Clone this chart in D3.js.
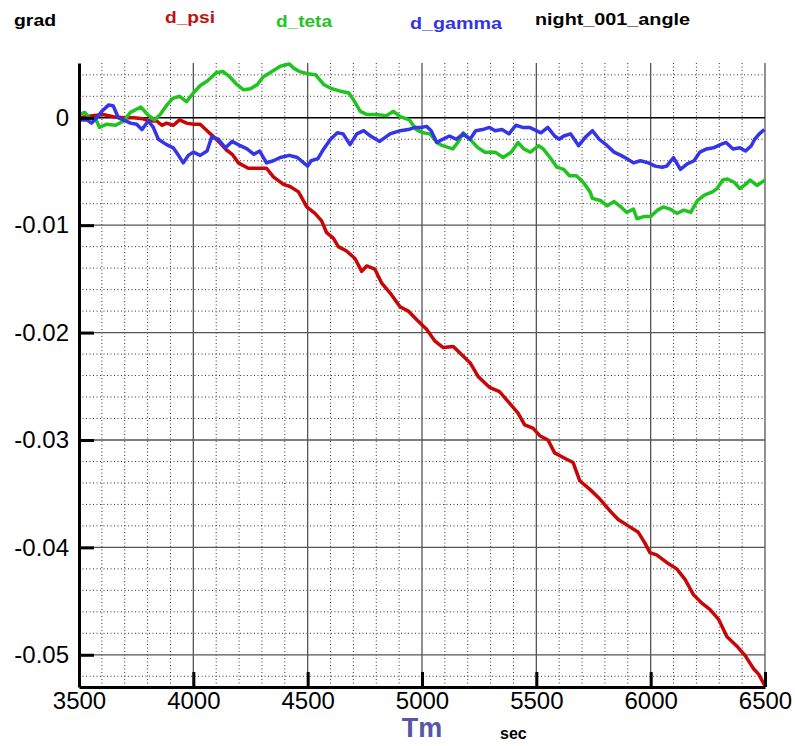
<!DOCTYPE html>
<html>
<head>
<meta charset="utf-8">
<script src="https://cdn.jsdelivr.net/npm/d3@7"></script>
<style>
	body { margin: 0; background: #fff; }
	svg { display: block; font-family: "Liberation Sans", Arial, sans-serif; }
	.tick text { font-size: 24px; fill: #000; }
	.head { font-weight: bold; font-size: 17px; }
</style>
</head>
<body>
<div id="chart"></div>
<script>
// values
const tPsi = [3500,3560,3605,3650,3695,3740,3780,3810,3840,3862,3883,3912,3940,3970,4000,4030,4060,4090,4115,4145,4170,4197,4240,4277,4320,4350,4394,4423,4460,4496,4532,4561,4583,4612,4634,4670,4707,4736,4758,4794,4824,4860,4904,4940,4977,5020,5057,5093,5137,5166,5210,5246,5266,5295,5339,5376,5420,5449,5485,5515,5551,5580,5624,5661,5690,5734,5778,5822,5858,5902,5946,5975,5997,6026,6070,6114,6151,6187,6224,6260,6297,6333,6377,6414,6450,6472,6500];
const dPsi = [0,0.0002,0.0003,0.0001,0,0,-0.0001,-0.0003,-0.0003,-0.0007,-0.0005,-0.0007,-0.0002,-0.0005,-0.0006,-0.0006,-0.0012,-0.0018,-0.0023,-0.003,-0.0034,-0.0042,-0.0047,-0.0047,-0.0047,-0.0055,-0.0062,-0.0064,-0.0069,-0.0083,-0.0089,-0.0096,-0.0107,-0.0112,-0.012,-0.0124,-0.0131,-0.0143,-0.0138,-0.0141,-0.0154,-0.0163,-0.0176,-0.018,-0.0188,-0.0197,-0.0208,-0.0214,-0.0213,-0.0219,-0.0228,-0.0241,-0.0245,-0.0251,-0.0255,-0.0264,-0.0275,-0.0286,-0.0289,-0.0296,-0.03,-0.0312,-0.0317,-0.0321,-0.0338,-0.0346,-0.0355,-0.0366,-0.0374,-0.038,-0.0386,-0.0396,-0.0405,-0.0407,-0.0414,-0.042,-0.043,-0.0444,-0.0452,-0.0458,-0.0467,-0.0483,-0.0492,-0.0501,-0.0513,-0.0518,-0.0529];

const tTeta = [3500,3525,3545,3575,3590,3620,3660,3695,3725,3770,3800,3830,3855,3885,3910,3940,3970,4000,4030,4060,4100,4130,4160,4190,4220,4250,4280,4305,4335,4380,4420,4440,4465,4500,4535,4570,4605,4640,4680,4700,4730,4760,4800,4845,4875,4905,4945,4975,5005,5035,5065,5090,5135,5160,5180,5210,5245,5275,5320,5355,5390,5420,5445,5474,5510,5530,5560,5590,5620,5645,5675,5705,5735,5745,5780,5810,5840,5870,5895,5925,5940,5970,6000,6030,6055,6085,6115,6145,6175,6205,6235,6270,6290,6315,6335,6365,6390,6415,6435,6465,6500];
const dTeta = [0.0003,0.0005,0,-0.0002,-0.0009,-0.0006,-0.0007,-0.0003,0.0005,0.001,0.0003,-0.0002,0.0003,0.0012,0.0018,0.002,0.0015,0.0023,0.003,0.0034,0.0042,0.0043,0.0038,0.0031,0.0026,0.0027,0.0031,0.0038,0.0042,0.0048,0.005,0.0046,0.0043,0.0041,0.004,0.0031,0.0027,0.0025,0.0023,0.0017,0.0006,0.0003,0.0003,0.0002,0.0006,0.0001,-0.0002,-0.0011,-0.0014,-0.0015,-0.0023,-0.0026,-0.0029,-0.0022,-0.0014,-0.002,-0.0028,-0.0032,-0.0032,-0.0037,-0.0032,-0.0023,-0.0029,-0.0032,-0.0026,-0.0029,-0.0037,-0.0046,-0.0048,-0.0054,-0.0054,-0.006,-0.0069,-0.0075,-0.0077,-0.0082,-0.0078,-0.0083,-0.0088,-0.0085,-0.0094,-0.0092,-0.0092,-0.0086,-0.0083,-0.0085,-0.0089,-0.0086,-0.0088,-0.0077,-0.0072,-0.0069,-0.0066,-0.0058,-0.0057,-0.006,-0.0066,-0.0062,-0.0058,-0.0063,-0.0058];

const tGamma = [3500,3535,3555,3577,3600,3630,3650,3672,3695,3725,3752,3775,3803,3825,3847,3883,3912,3935,3956,3978,4000,4030,4060,4080,4110,4140,4170,4205,4235,4265,4290,4320,4350,4380,4420,4455,4500,4515,4545,4570,4600,4630,4655,4685,4715,4745,4775,4815,4860,4905,4940,4970,4995,5020,5040,5065,5090,5120,5150,5180,5210,5235,5265,5295,5320,5350,5380,5410,5440,5470,5500,5520,5550,5580,5600,5620,5650,5685,5715,5745,5775,5810,5840,5870,5895,5925,5955,5990,6020,6050,6070,6100,6130,6160,6190,6215,6245,6275,6305,6330,6360,6390,6415,6440,6455,6475,6497];
const dGamma = [-0.0002,-0.0002,-0.0005,0,0.0006,0.0012,0.0011,0,-0.0002,-0.0005,-0.0006,-0.0011,-0.0003,-0.0009,-0.002,-0.0025,-0.0028,-0.0035,-0.0042,-0.0035,-0.0032,-0.0035,-0.0031,-0.0018,-0.002,-0.0028,-0.0022,-0.0026,-0.0029,-0.0034,-0.0031,-0.0042,-0.004,-0.0037,-0.0035,-0.0037,-0.0045,-0.004,-0.0038,-0.0029,-0.002,-0.0014,-0.0015,-0.0025,-0.0015,-0.0012,-0.0017,-0.0022,-0.0015,-0.0012,-0.0011,-0.0009,-0.0009,-0.0008,-0.0012,-0.0023,-0.002,-0.0017,-0.002,-0.0015,-0.002,-0.0012,-0.0011,-0.0009,-0.0012,-0.0011,-0.0015,-0.0007,-0.0009,-0.0009,-0.0012,-0.0014,-0.0009,-0.0017,-0.002,-0.0017,-0.0015,-0.0026,-0.0018,-0.0012,-0.002,-0.0026,-0.0032,-0.0035,-0.0038,-0.0042,-0.004,-0.0042,-0.0045,-0.0046,-0.0045,-0.0037,-0.0048,-0.0043,-0.004,-0.0032,-0.0029,-0.0028,-0.0025,-0.0023,-0.0029,-0.0028,-0.0031,-0.0026,-0.002,-0.0015,-0.0011];

const xTicks = [3500, 4000, 4500, 5000, 5500, 6000, 6500];
const yTicks = [0, -0.01, -0.02, -0.03, -0.04, -0.05];
const yLabels = ['0', '-0.01', '-0.02', '-0.03', '-0.04', '-0.05'];
const xDomain = [3500, 6500];
const yDomain = [-0.053, 0.0051];

const series = [
	{ name: 'd_psi', t: tPsi, v: dPsi, colour: '#c80606' },
	{ name: 'd_teta', t: tTeta, v: dTeta, colour: '#1fc41f' },
	{ name: 'd_gamma', t: tGamma, v: dGamma, colour: '#3434ea' }
];

const width = 795, height = 746;
const margin = { top: 63, right: 30, bottom: 59, left: 79 };

const svg = d3.select('#chart')
	.append('svg')
	.attr('width', width)
	.attr('height', height);

const x = d3.scaleLinear().domain(xDomain).range([margin.left, width - margin.right]);
const y = d3.scaleLinear().domain(yDomain).range([height - margin.bottom, margin.top]);

// grid: dotted minor every 100 s / 0.002, solid major
const minorX = d3.range(3600, 6500, 100).filter(d => d % 500 !== 0);
const minorY = d3.range(4, -53, -2).map(d => d / 1000).filter(d => Math.round(d * 1000) % 10 !== 0);

const grid = svg.append('g').attr('class', 'grid');
grid.selectAll('.mx').data(minorX).join('line')
	.attr('x1', d => x(d)).attr('x2', d => x(d))
	.attr('y1', margin.top).attr('y2', height - margin.bottom)
	.attr('stroke', '#333').attr('stroke-dasharray', '1,2.5');
grid.selectAll('.my').data(minorY).join('line')
	.attr('x1', margin.left).attr('x2', width - margin.right)
	.attr('y1', d => y(d)).attr('y2', d => y(d))
	.attr('stroke', '#333').attr('stroke-dasharray', '1,2.5');
grid.selectAll('.gx').data(xTicks.slice(1)).join('line')
	.attr('x1', d => x(d)).attr('x2', d => x(d))
	.attr('y1', margin.top).attr('y2', height - margin.bottom)
	.attr('stroke', '#555').attr('stroke-width', 1.3);
grid.selectAll('.gy').data(yTicks).join('line')
	.attr('x1', margin.left).attr('x2', width - margin.right)
	.attr('y1', d => y(d)).attr('y2', d => y(d))
	.attr('stroke', d => d === 0 ? '#000' : '#555').attr('stroke-width', 1.3);

// the three curves
const line = d3.line().x(d => x(d[0])).y(d => y(d[1]));
series.forEach(s => {
	svg.append('path')
		.datum(s.t.map((t, i) => [t, s.v[i]]))
		.attr('fill', 'none')
		.attr('stroke', s.colour)
		.attr('stroke-width', 3.5)
		.attr('stroke-linejoin', 'round')
		.attr('d', line);
});

// axes, ticks pointing inwards
const yAxis = g => {
	g.attr('transform', `translate(${margin.left},0)`)
		.call(d3.axisLeft(y)
			.tickValues(yTicks)
			.tickFormat((d, i) => yLabels[i])
			.tickSize(-15)
			.tickSizeOuter(0)
			.tickPadding(10))
		.call(g => g.selectAll('line, path').attr('stroke', '#000').attr('stroke-width', 3));
};

const xAxis = g => {
	g.attr('transform', `translate(0,${height - margin.bottom})`)
		.call(d3.axisBottom(x)
			.tickValues(xTicks)
			.tickFormat(d3.format('d'))
			.tickSize(-15)
			.tickSizeOuter(0)
			.tickPadding(5))
		.call(g => g.selectAll('line, path').attr('stroke', '#000').attr('stroke-width', 3));
};

svg.append('g').call(yAxis);
svg.append('g').call(xAxis);

// header labels
const heads = [
	{ text: 'grad', x: 14, y: 26, len: 42, colour: '#000' },
	{ text: 'd_psi', x: 165, y: 23, len: 50, colour: '#c41010' },
	{ text: 'd_teta', x: 276, y: 27, len: 56, colour: '#22c422' },
	{ text: 'd_gamma', x: 410, y: 29, len: 92, colour: '#3434e0' },
	{ text: 'night_001_angle', x: 535, y: 25, len: 155, colour: '#000' }
];
svg.selectAll('.head').data(heads).join('text')
	.attr('class', 'head')
	.attr('x', d => d.x)
	.attr('y', d => d.y)
	.attr('fill', d => d.colour)
	.attr('textLength', d => d.len)
	.attr('lengthAdjust', 'spacingAndGlyphs')
	.text(d => d.text);

// axis titles
svg.append('text')
	.attr('x', 422).attr('y', 737)
	.attr('text-anchor', 'middle')
	.attr('font-size', 27).attr('font-weight', 'bold')
	.attr('fill', '#5656a8')
	.text('Tm');

svg.append('text')
	.attr('x', 500).attr('y', 739)
	.attr('font-size', 16).attr('font-weight', 'bold')
	.attr('fill', '#000')
	.text('sec');
</script>
</body>
</html>
